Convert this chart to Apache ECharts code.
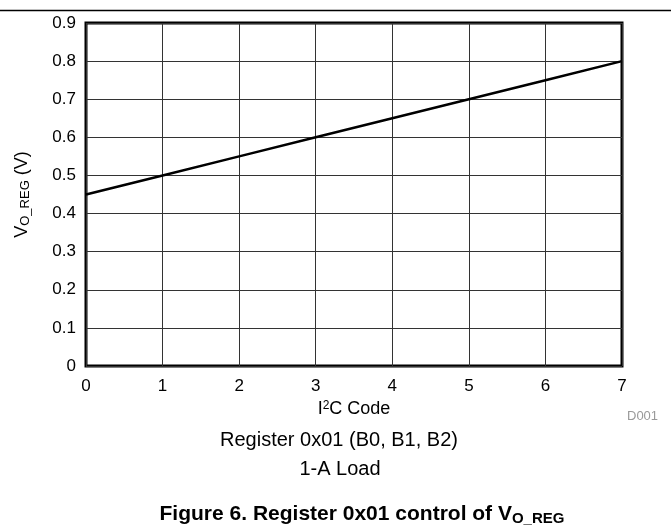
<!DOCTYPE html>
<html><head><meta charset="utf-8">
<script src="https://cdn.jsdelivr.net/npm/echarts@6/dist/echarts.min.js"></script>
<style>html,body{margin:0;padding:0;background:#fff}#c{width:671px;height:531px}</style>
</head><body><div id="c"></div>
<script>
const codes = [0, 1, 2, 3, 4, 5, 6, 7];
const vreg = [0.45, 0.50, 0.55, 0.60, 0.65, 0.70, 0.75, 0.80];
const yTicks = [0, 0.1, 0.2, 0.3, 0.4, 0.5, 0.6, 0.7, 0.8, 0.9];

const F = 'Liberation Sans, Arial, sans-serif';
const chart = echarts.init(document.getElementById('c'));
chart.setOption({
  animation: false,
  backgroundColor: '#fff',
  grid: {left: 86, right: 49, top: 23, bottom: 165, show: true, borderColor: '#000', borderWidth: 3, backgroundColor: 'transparent'},
  xAxis: {
    type: 'value', min: 0, max: 7, interval: 1,
    axisLine: {show: false}, axisTick: {show: false},
    splitLine: {show: true, lineStyle: {color: '#333', width: 1}},
    axisLabel: {color: '#000', fontFamily: F, fontSize: 17, margin: 12},
    name: '{n|I}{s|2}{n|C Code}', nameLocation: 'middle', nameGap: 31,
    nameTextStyle: {rich: {
      n: {fontFamily: F, fontSize: 18, color: '#000'},
      s: {fontFamily: F, fontSize: 12, color: '#000', verticalAlign: 'top', padding: [0,0,7,0]}
    }}
  },
  yAxis: {
    type: 'value', min: 0, max: 0.9, interval: 0.1,
    axisLine: {show: false}, axisTick: {show: false},
    splitLine: {show: true, lineStyle: {color: '#333', width: 1}},
    axisLabel: {color: '#000', fontFamily: F, fontSize: 17, margin: 10,
      formatter: v => { const t = yTicks.find(k => Math.abs(k - v) < 1e-6); return t === 0 ? '0' : t.toFixed(1); }},
    name: '{n|V}{s|O_REG}{n| (V)}', nameLocation: 'middle', nameGap: 54,
    nameTextStyle: {rich: {
      n: {fontFamily: F, fontSize: 18, color: '#000'},
      s: {fontFamily: F, fontSize: 13, color: '#000', verticalAlign: 'bottom', padding: [7,0,0,0]}
    }}
  },
  series: [{
    type: 'line', data: codes.map((c, i) => [c, vreg[i]]),
    showSymbol: false, lineStyle: {color: '#000', width: 2.5}
  }],
  graphic: [
    {type: 'line', shape: {x1: 0, y1: 10.5, x2: 671, y2: 10.5}, style: {stroke: '#000', lineWidth: 1.5}},
    {type: 'text', left: 627, top: 410, style: {text: 'D001', font: '13px ' + F, fill: '#999'}},
    {type: 'text', x: 339, y: 440, style: {text: 'Register 0x01 (B0, B1, B2)', font: '20px ' + F, fill: '#000', align: 'center', verticalAlign: 'middle'}},
    {type: 'text', x: 340, y: 469, style: {text: '1-A Load', font: '20px ' + F, fill: '#000', align: 'center', verticalAlign: 'middle'}},
    {type: 'text', x: 362, y: 514, style: {
      text: '{b|Figure 6. Register 0x01 control of V}{s|O_REG}', align: 'center', verticalAlign: 'middle',
      rich: {
        b: {fontFamily: F, fontSize: 21, fontWeight: 'bold', fill: '#000'},
        s: {fontFamily: F, fontSize: 15, fontWeight: 'bold', fill: '#000', verticalAlign: 'bottom', padding: [10,0,0,0]}
      }}}
  ]
});
</script></body></html>
